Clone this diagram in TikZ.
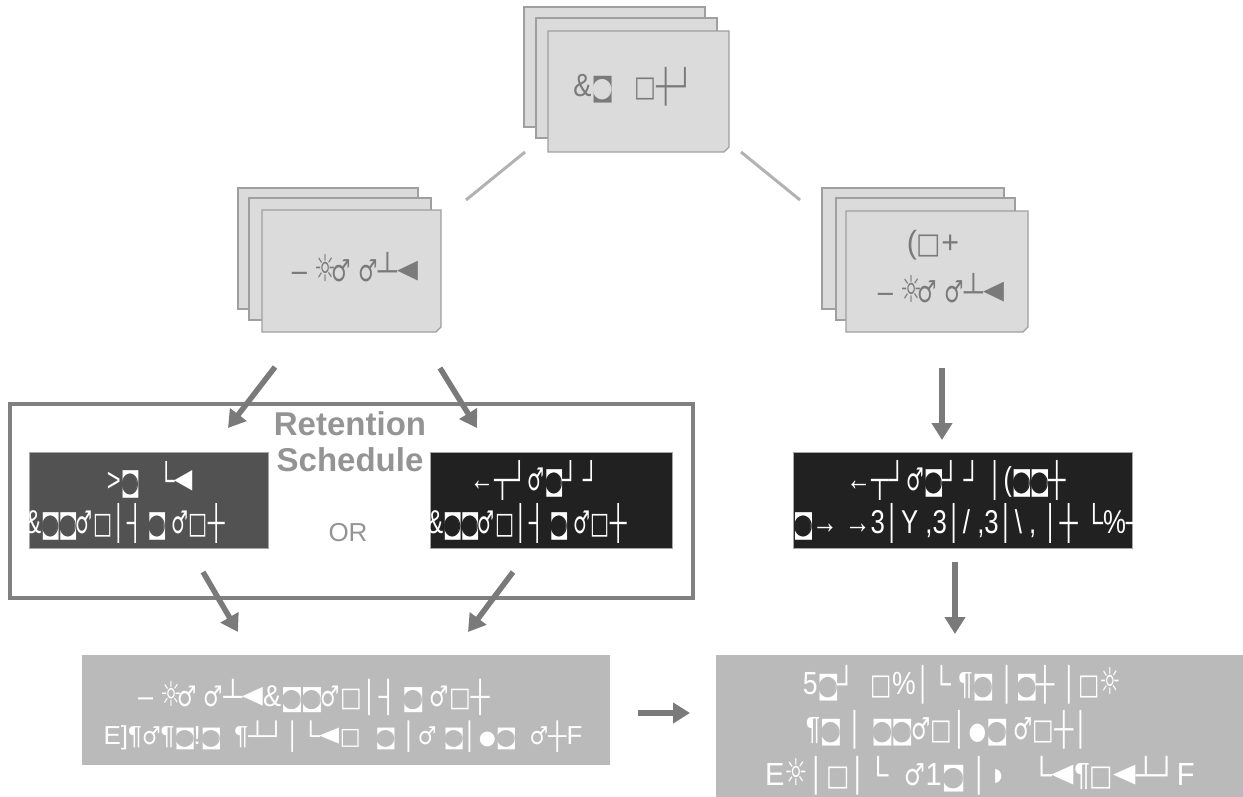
\documentclass[tikz,border=0pt]{standalone}
\usepackage{fontspec}
\setmainfont{Liberation Sans}
\newfontfamily\symf{DejaVu Sans}
\usetikzlibrary{shapes.misc,arrows.meta}
\colorlet{holec}{black!14}
\newcommand{\ID}{{\symf\scalebox{.84}[.82]{\rlap{◙}{\color{holec}●}}}}
\newcommand{\MA}{{\symf\scalebox{.8}[.95]{♂}}}
\newcommand{\SU}{{\symf\scalebox{.9}[1.15]{☼}}}
\newcommand{\SQ}{{\symf\scalebox{.85}[.9]{□}}}
\newcommand{\LT}{{\symf\scalebox{1}[1.25]{◄}}}
\newcommand{\DO}{{\symf\scalebox{.75}{●}}}
\newcommand{\SX}[2]{\scalebox{#1}[1]{#2}}
\tikzset{
  x=1pt,y=-1pt,
  card/.style={chamfered rectangle,chamfered rectangle corners=south east,chamfered rectangle xsep=5pt,chamfered rectangle ysep=7pt,draw=gray!75,line width=1.2pt,fill=black!14,inner sep=0pt},
  backcard/.style={rectangle,draw=gray!75,line width=1.2pt,fill=black!14,inner sep=0pt},
  cardtext/.style={inner sep=0pt,align=center,text=black!52,font=\fontsize{32}{42}\selectfont},
  darkbox/.style={rectangle,draw=black!35,line width=.8pt,inner sep=0pt},
  darktext/.style={inner sep=0pt,text=white,font=\fontsize{33}{38}\selectfont},
  lightbox/.style={rectangle,fill=black!27,inner sep=0pt},
  lighttext/.style={inner sep=0pt,text=white,font=\fontsize{32}{38}\selectfont},
  frame/.style={draw=black!50,line width=4.5pt},
  link/.style={draw=black!30,line width=3pt},
  flow/.style={draw=black!52,line width=5.5pt,-{Triangle[length=17pt,width=20pt]}},
  title/.style={text=black!42,font=\bfseries\fontsize{33}{36}\selectfont,align=center,inner sep=0pt}
}
\newcommand{\boxat}[7]{\node[#1,minimum width=#4pt-#2pt,minimum height=#5pt-#3pt] (#6) at ({(#2+#4)/2},{(#3+#5)/2}) {#7};}
\begin{document}
\begin{tikzpicture}
\useasboundingbox (0,0) rectangle (1243,797);
% top stack
\boxat{backcard}{524}{7}{705}{127}{ta}{}
\boxat{backcard}{536}{18}{717}{138}{tb}{}
\boxat{card}{548}{31}{729}{152}{tc}{\strut}
\node[cardtext] (tct) at (634,87) {\SX{.85}{\&\ID\ \ \ \SQ┼┘}};
% left stack
\boxat{backcard}{238}{188}{418}{309}{la}{}
\boxat{backcard}{249}{198}{431}{320}{lb}{}
\boxat{card}{262}{210}{441}{332}{lc}{\strut}
\node[cardtext] (lct) at (355,267) {\SX{.85}{– \SU\hspace{-6pt}\MA\ \MA┴\LT}};
% right stack
\boxat{backcard}{822}{188}{1004}{309}{ra}{}
\boxat{backcard}{836}{198}{1015}{320}{rb}{}
\boxat{card}{846}{211}{1028}{332}{rc}{\strut}
\node[cardtext] (rcu) at (933,245) {\SX{.95}{(\SQ+}};
\node[cardtext] (rct) at (941,288) {\SX{.85}{– \SU\hspace{-6pt}\MA\ \MA┴\LT}};
% frame
\coordinate (fa) at (10,404);
\coordinate (fb) at (693,598);
\draw[frame] (fa) rectangle (fb);
% dark boxes
\boxat{darkbox,fill=black!68}{29}{452}{268}{548}{da}{}
\boxat{darkbox,fill=black!87}{430}{452}{672}{548}{db}{}
\boxat{darkbox,fill=black!87}{793}{452}{1132}{548}{dc}{}
\node[darktext] (dau) at (150,480) {\colorlet{holec}{black!68}\SX{.72}{>\ID\ \ \ └\LT}};
\node[darktext] (dal) at (125,523) {\colorlet{holec}{black!68}\SX{.72}{\&\ID\ID\MA\SQ│┤\,\ID\ \MA\SQ┼}};
\node[darktext] (dbu) at (535,480) {\colorlet{holec}{black!87}\SX{.72}{←┬┘\MA\ID┘\,┘}};
\node[darktext] (dbl) at (527,523) {\colorlet{holec}{black!87}\SX{.72}{\&\ID\ID\MA\SQ│┤\,\ID\ \MA\SQ┼}};
\node[darktext] (dcu) at (956,480) {\colorlet{holec}{black!87}\SX{.75}{←┬┘\MA\ID┘\,┘ │(\ID\ID┼}};
\begin{scope}
\clip (dc.south west) rectangle (dc.north east);
\node[darktext,anchor=west] (dcl) at (793,523) {\colorlet{holec}{black!87}\SX{.78}{\ID→ →3│Y ,3│/ ,3│\textbackslash{} , │┼ └\%┘ (}};
\end{scope}
\node[title] (ret) at (350,442) {Retention\\Schedule};
\node[title,font=\fontsize{26}{28}\selectfont] (or) at (348,533) {OR};
% bottom boxes
\boxat{lightbox}{82}{655}{610}{765}{ba}{}
\node[lighttext,font=\fontsize{30}{36}\selectfont] (bau) at (314,697) {\colorlet{holec}{black!27}\SX{.9}{– \SU\hspace{-6pt}\MA\ \MA┴\LT\&\ID\ID\MA\SQ│┤\,\ID\ \MA\SQ┼}};
\node[lighttext,font=\fontsize{26}{30}\selectfont] (bal) at (343,737) {\colorlet{holec}{black!27}E]¶\MA¶\ID!\ID\ \ ¶┴┘│└\LT\SQ\ \ \ID\ │\MA\ \ID│\DO\ID\ \ \MA┼F};
\boxat{lightbox}{716}{655}{1243}{797}{bb}{}
\node[lighttext] (bbu) at (962,685) {\colorlet{holec}{black!27}\SX{.83}{5\ID┘\ \ \SQ\%│└ ¶\ID\ │\ID┼ │\SQ\SU}};
\node[lighttext] (bbm) at (948,730) {\colorlet{holec}{black!27}\SX{.84}{¶\ID\ │ \ID\ID\MA\SQ│\DO\ID\ \MA\SQ┼│}};
\node[lighttext] (bbl) at (980,776) {\colorlet{holec}{black!27}\SX{.91}{E\SU│\SQ│└ \ \MA1\ID\ │◗\ \ \ └\LT¶\SQ\LT┴┘F}};
% connectors
\coordinate (l1a) at (525,152); \coordinate (l1b) at (466,200);
\coordinate (l2a) at (741,152); \coordinate (l2b) at (800,200);
\draw[link] (l1a) -- (l1b);
\draw[link] (l2a) -- (l2b);
\coordinate (a1a) at (275,367); \coordinate (a1b) at (228,428);
\coordinate (a2a) at (440,368); \coordinate (a2b) at (477,428);
\coordinate (a3a) at (942,368); \coordinate (a3b) at (942,440);
\coordinate (a4a) at (203,572); \coordinate (a4b) at (238,632);
\coordinate (a5a) at (513,572); \coordinate (a5b) at (468,632);
\coordinate (a6a) at (955,562); \coordinate (a6b) at (955,634);
\coordinate (a7a) at (638,713); \coordinate (a7b) at (690,713);
\draw[flow] (a1a) -- (a1b);
\draw[flow] (a2a) -- (a2b);
\draw[flow] (a3a) -- (a3b);
\draw[flow] (a4a) -- (a4b);
\draw[flow] (a5a) -- (a5b);
\draw[flow] (a6a) -- (a6b);
\draw[flow] (a7a) -- (a7b);
\end{tikzpicture}
\end{document}
